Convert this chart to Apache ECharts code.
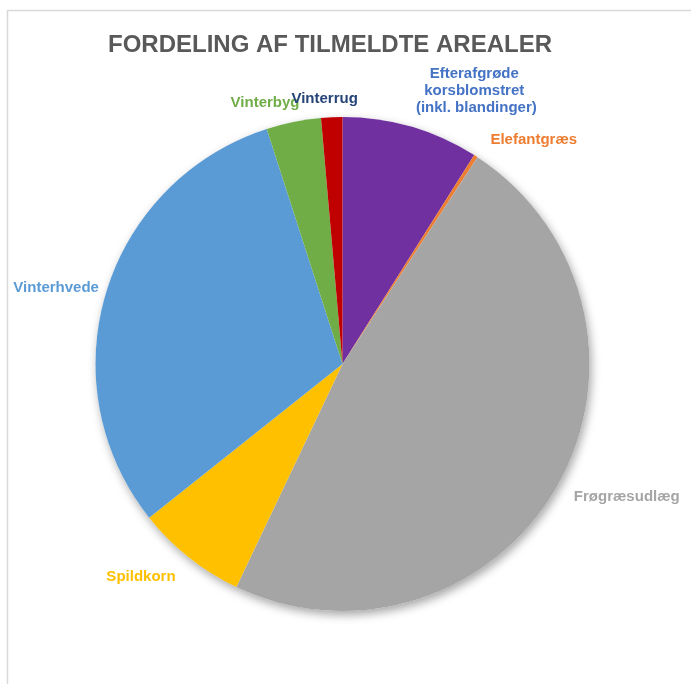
<!DOCTYPE html>
<html>
<head>
<meta charset="utf-8">
<style>
  html, body { margin: 0; padding: 0; background: #ffffff; }
  #chart { width: 691px; height: 684px; }
</style>
<script src="https://cdn.jsdelivr.net/npm/echarts@6/dist/echarts.min.js"></script>
</head>
<body>
<div id="chart"></div>
<script>
// Fordeling af tilmeldte arealer (andel i %), i urets retning fra kl. 12
const categories = [
  'Efterafgrøde korsblomstret (inkl. blandinger)',
  'Elefantgræs',
  'Frøgræsudlæg',
  'Spildkorn',
  'Vinterhvede',
  'Vinterbyg',
  'Vinterrug'
];
const shares = [8.97, 0.25, 47.97, 7.25, 30.8, 3.58, 1.39];
const sliceColors = ['#7030a0', '#ed7d31', '#a5a5a5', '#ffc000', '#5b9bd5', '#70ad47', '#c00000'];
const labelColors = ['#4472c4', '#ed7d31', '#a5a5a5', '#ffc000', '#5b9bd5', '#70ad47', '#264478'];

const FONT = '"Liberation Sans", Arial, sans-serif';
const CENTER = [342.5, 364];
const RADIUS = 247;
const LABEL_R = 295;
// small shifts of each label away from its slice's mid-angle point
const labelShift = {
  'Efterafgrøde korsblomstret (inkl. blandinger)': [52, 10],
  'Elefantgræs': [32, 24],
  'Frøgræsudlæg': [27, -11],
  'Spildkorn': [-18, -18],
  'Vinterhvede': [-4, 9],
  'Vinterbyg': [-19, 28],
  'Vinterrug': [-5, 30]
};

const total = shares.reduce((a, b) => a + b, 0);
function midAngle(i) {
  let before = 0;
  for (let k = 0; k < i; k++) before += shares[k];
  return (before + shares[i] / 2) / total * 2 * Math.PI;
}

const pieData = categories.map((name, i) => {
  const item = {
    name: name,
    value: shares[i],
    itemStyle: { color: sliceColors[i] },
    label: { color: labelColors[i] }
  };
  if (i === 0) {
    item.label.width = 135;
    item.label.overflow = 'break';
  }
  return item;
});

const chart = echarts.init(document.getElementById('chart'), null, { renderer: 'canvas' });
chart.setOption({
  backgroundColor: '#ffffff',
  animation: false,
  title: {
    text: 'FORDELING AF TILMELDTE AREALER',
    left: 103,
    top: 28,
    textStyle: { fontFamily: FONT, fontSize: 24, fontWeight: 'bold', color: '#595959' }
  },
  graphic: [
    {
      type: 'polyline',
      shape: { points: [[7.5, 700], [7.5, 10.5], [700, 10.5]] },
      style: { stroke: '#d9d9d9', lineWidth: 1.5, fill: null },
      silent: true
    }
  ],
  series: [
    {
      // soft drop shadow beneath the whole pie
      type: 'pie',
      center: CENTER,
      radius: RADIUS,
      silent: true,
      label: { show: false },
      labelLine: { show: false },
      data: [{ value: 1, itemStyle: {
        color: '#ffffff',
        shadowBlur: 10,
        shadowOffsetX: 2,
        shadowOffsetY: 4,
        shadowColor: 'rgba(0,0,0,0.35)'
      } }],
      z: 1
    },
    {
      type: 'pie',
      center: CENTER,
      radius: RADIUS,
      startAngle: 90,
      clockwise: true,
      avoidLabelOverlap: false,
      itemStyle: { borderWidth: 0 },
      label: {
        show: true,
        position: 'outside',
        formatter: '{b}',
        fontFamily: FONT,
        fontSize: 15,
        fontWeight: 'bold',
        lineHeight: 17,
        align: 'center'
      },
      labelLine: { show: false },
      labelLayout: function (params) {
        const i = params.dataIndex;
        const a = midAngle(i);
        const s = labelShift[categories[i]] || [0, 0];
        return {
          x: CENTER[0] + LABEL_R * Math.sin(a) + s[0],
          y: CENTER[1] - LABEL_R * Math.cos(a) + s[1],
          align: 'center',
          verticalAlign: 'middle'
        };
      },
      data: pieData,
      z: 2
    }
  ]
});
</script>
</body>
</html>
